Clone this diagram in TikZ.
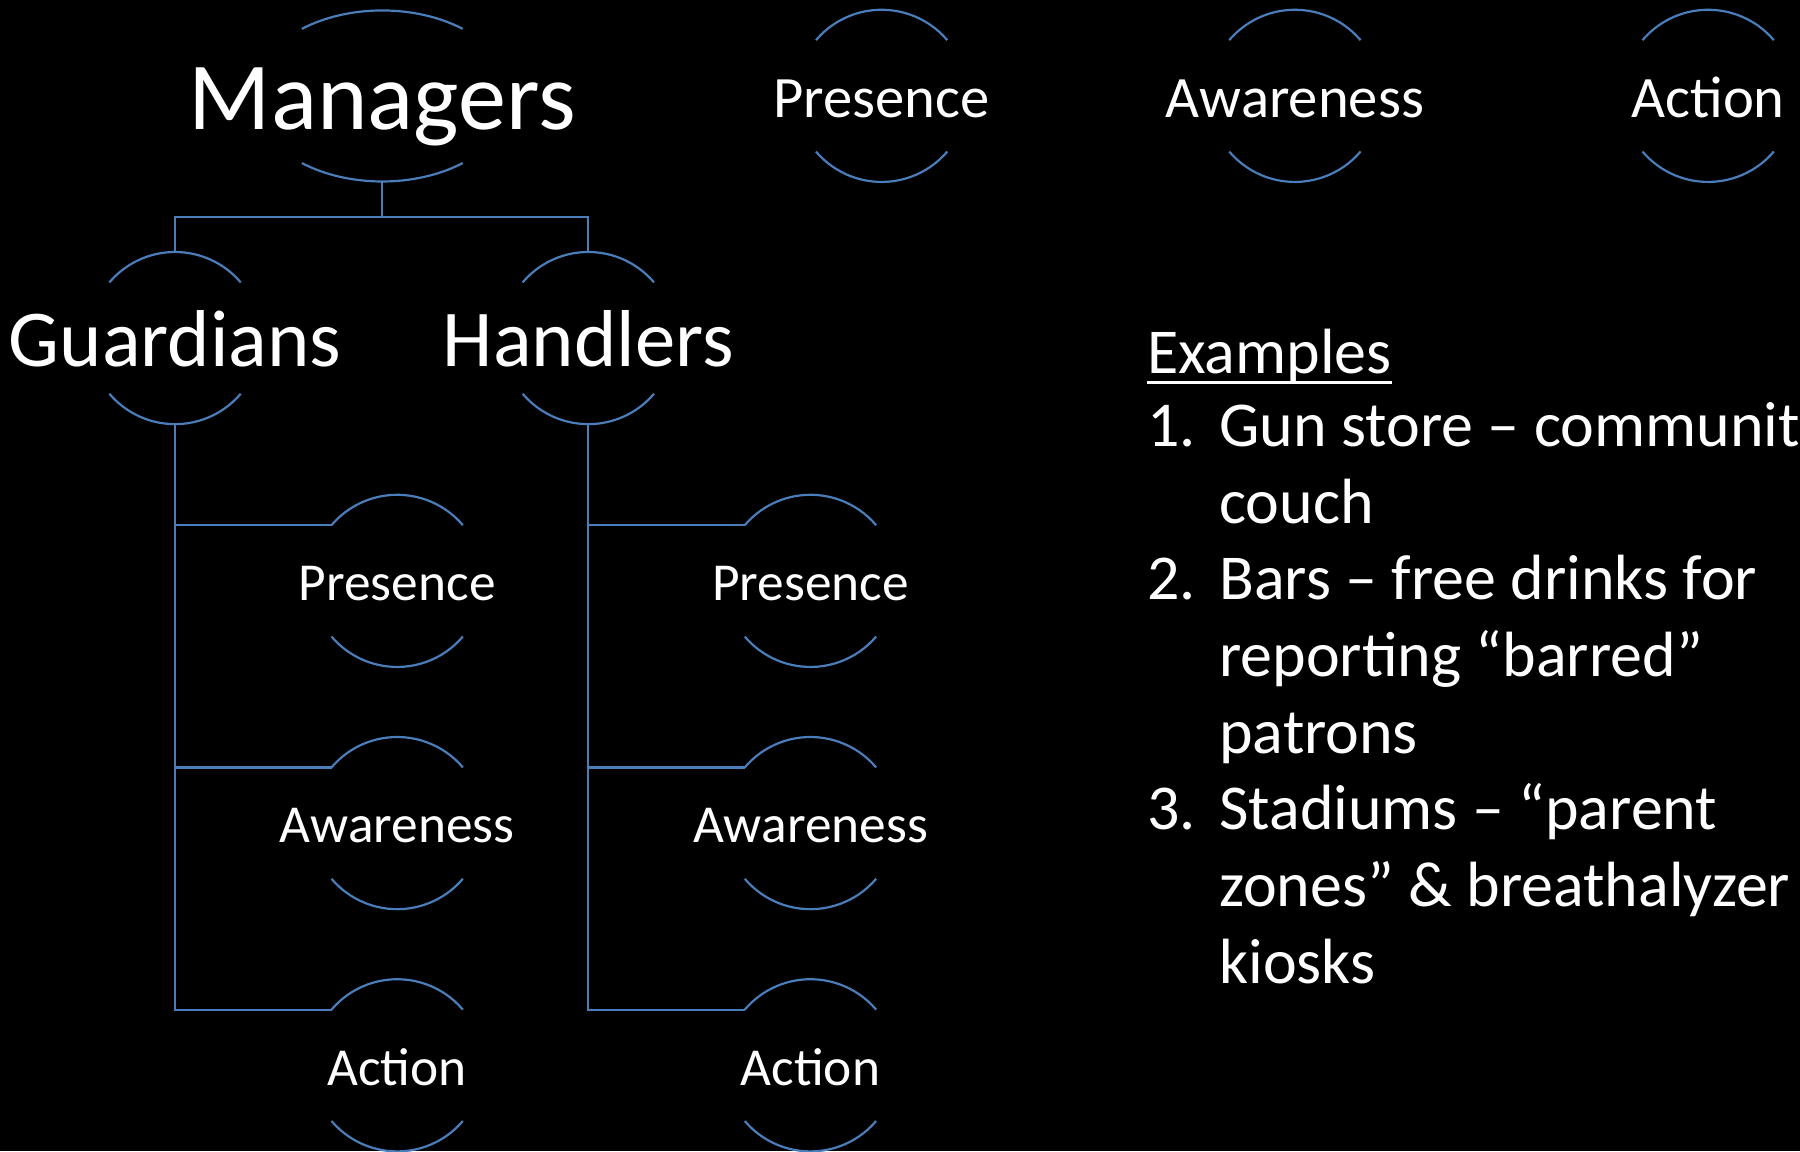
\documentclass[tikz,border=0pt]{standalone}
\usepackage{fontspec}
\setmainfont{Carlito}
\definecolor{linkblue}{HTML}{4A7EBB}
\tikzset{
  link/.style={draw=linkblue, line width=1.9pt},
  basetxt/.style={text=white, inner sep=0pt, text depth=0pt},
  mtxt/.style={basetxt, text height=53pt, font=\fontsize{83.8}{100}\selectfont},
  gtxt/.style={basetxt, text height=44.4pt, font=\fontsize{70.3}{84}\selectfont},
  ttxt/.style={basetxt, text height=32.3pt, font=\fontsize{51.1}{61}\selectfont},
  stxt/.style={basetxt, text height=29.4pt, font=\fontsize{46.5}{56}\selectfont},
  etxt/.style={text=white, inner sep=0pt, anchor=base west, font=\fontsize{55.7}{67}\selectfont},
}
% #1 node, #2 x radius, #3 y radius, #4 angle of the arc ends
\newcommand\ringarcs[4]{%
  \draw[link] ([yshift=2.5pt]#1.center) ++(#4:#2pt and #3pt)
    arc[start angle=#4, end angle={180-#4}, x radius=#2pt, y radius=#3pt];
  \draw[link] ([yshift=2.5pt]#1.center) ++(-#4:#2pt and #3pt)
    arc[start angle=-#4, end angle={-180+#4}, x radius=#2pt, y radius=#3pt];
}
\begin{document}
\begin{tikzpicture}[x=1pt, y=-1pt]
  \useasboundingbox (0,0) rectangle (1568,1003);
  \clip (0,0) rectangle (1568,1003);
  \fill[black] (0,0) rectangle (1568,1003);

  % top row
  \node[mtxt] (mgr) at (333,86.1) {Managers};
  \node[ttxt] (tpre) at (768,86) {Presence};
  \node[ttxt] (tawa) at (1128,86) {Awareness};
  \node[ttxt] (tact) at (1488,86) {Action};

  % second level
  \node[gtxt] (gua) at (152.5,297) {Guardians};
  \node[gtxt] (han) at (512.5,297) {Handlers};

  % third level
  \node[stxt] (gpre) at (346,508.5) {Presence};
  \node[stxt] (gawa) at (346,719.5) {Awareness};
  \node[stxt] (gact) at (346,930.5) {Action};
  \node[stxt] (hpre) at (706,508.5) {Presence};
  \node[stxt] (hawa) at (706,719.5) {Awareness};
  \node[stxt] (hact) at (706,930.5) {Action};

  % arcs
  \ringarcs{mgr}{113}{74.5}{51.7}
  \foreach \n in {tpre,tawa,tact,gua,han,gpre,gawa,gact,hpre,hawa,hact}{
    \ringarcs{\n}{75}{75}{40.3}
  }

  % connectors
  \coordinate (split) at (333,189);
  \draw[link] ([yshift=-72pt]mgr.center) -- (split);
  \draw[link] ([yshift=77pt]gua.center) |- (split) -| ([yshift=77pt]han.center);
  \foreach \p/\c in {gua/gpre,gua/gawa,gua/gact,han/hpre,han/hawa,han/hact}{
    \draw[link] ([yshift=-72pt]\p.center) |- ([xshift=-57.2pt,yshift=51pt]\c.center);
  }

  % examples
  \node[etxt] (ex) at (999,325.2) {Examples};
  \draw[white, line width=2.6pt] ([yshift=-8.4pt]ex.base west) -- ([yshift=-8.4pt]ex.base east);
  \node[etxt] (n1) at (999,389) {1.};
  \node[etxt] (l1) at (1062,389) {Gun store – communit};
  \node[etxt] (l2) at (1062,455.8) {couch};
  \node[etxt] (n2) at (999,522.6) {2.};
  \node[etxt] (l3) at (1062,522.6) {Bars – free drinks for};
  \node[etxt] (l4) at (1062,589.4) {reporting “barred”};
  \node[etxt] (l5) at (1062,656.2) {patrons};
  \node[etxt] (n3) at (999,723) {3.};
  \node[etxt] (l6) at (1062,723) {Stadiums – “parent};
  \node[etxt] (l7) at (1062,789.8) {zones” \& breathalyzer};
  \node[etxt] (l8) at (1062,856.6) {kiosks};
\end{tikzpicture}
\end{document}
